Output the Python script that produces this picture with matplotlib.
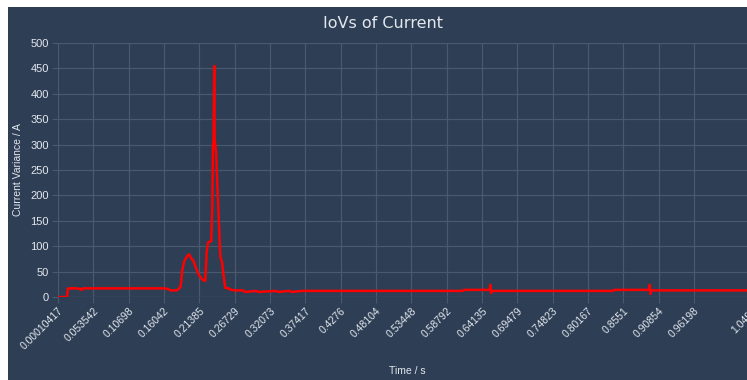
import matplotlib
matplotlib.use("Agg")
import matplotlib.pyplot as plt
from matplotlib.patches import Rectangle

# Current variance over time (s, A)
time_s = [0.0001, 0.0137, 0.0152, 0.030, 0.036, 0.037, 0.080, 0.120, 0.160, 0.166,
          0.170, 0.180, 0.1855, 0.1880, 0.1910, 0.1950, 0.1985, 0.2015, 0.2046,
          0.2085, 0.2122, 0.2160, 0.2197, 0.2228, 0.2250, 0.2273, 0.2318, 0.2334,
          0.2345, 0.2352, 0.2364, 0.2370, 0.2379, 0.2394, 0.2409, 0.2432, 0.2455,
          0.2485, 0.2500, 0.2531, 0.2576, 0.2622, 0.2682, 0.2800, 0.2830, 0.3000,
          0.3030, 0.3300, 0.3330, 0.3500, 0.3530, 0.3700, 0.3742, 0.5000, 0.6121,
          0.6140, 0.6530, 0.6540, 0.6550, 0.6560, 0.7500, 0.8393, 0.8410, 0.8940,
          0.8950, 0.8960, 0.8970, 0.9600, 1.0496]
variance_a = [0, 0, 17, 17, 14, 17, 17, 17, 17, 16,
              13, 13, 20, 52, 70, 80, 84, 76, 72,
              58, 46, 38, 33, 32, 90, 108, 110, 175,
              300, 305, 455, 310, 300, 283, 225, 155, 80,
              66, 47, 18, 17, 14, 13, 13, 10, 12,
              10, 12, 10, 12, 10, 12, 12, 12, 12,
              14, 14, 24, 8, 12, 12, 12, 14, 14,
              24, 6, 13, 13, 13]

x_ticks = [0.00010417, 0.053542, 0.10698, 0.16042, 0.21385, 0.26729, 0.32073,
           0.37417, 0.4276, 0.48104, 0.53448, 0.58792, 0.64135, 0.69479,
           0.74823, 0.80167, 0.8551, 0.90854, 0.96198, 1.0496]
x_tick_labels = ["0.00010417", "0.053542", "0.10698", "0.16042", "0.21385",
                 "0.26729", "0.32073", "0.37417", "0.4276", "0.48104",
                 "0.53448", "0.58792", "0.64135", "0.69479", "0.74823",
                 "0.80167", "0.8551", "0.90854", "0.96198", "1.0496"]
y_ticks = [0, 50, 100, 150, 200, 250, 300, 350, 400, 450, 500]

W, H = 747, 380
BG = "#2d3e55"
GRID = "#4a5a6c"
TXT = "#e4e8ee"

plt.rcParams["font.family"] = ["Liberation Sans", "DejaVu Sans"]

fig = plt.figure(figsize=(W / 100, H / 100), dpi=100)
fig.patch.set_facecolor("white")
fig.add_artist(Rectangle((8 / W, 0), 1, 1 - 7 / H, transform=fig.transFigure,
                         facecolor=BG, edgecolor="none", zorder=0))

left, right, top, bottom = 58, 752, 43, 297
ax = fig.add_axes([left / W, (H - bottom) / H, (right - left) / W, (bottom - top) / H])
ax.set_facecolor(BG)
ax.plot(time_s, variance_a, color="#ff0000", lw=1.8, solid_joinstyle="round", zorder=3)

ax.set_xlim(x_ticks[0], x_ticks[-1])
ax.set_ylim(0, 500)
ax.set_xticks(x_ticks)
ax.set_xticklabels(x_tick_labels, rotation=45, ha="right", va="top",
                   rotation_mode="anchor", fontsize=7.5, color=TXT)
ax.set_yticks(y_ticks)
ax.set_yticklabels([str(v) for v in y_ticks], fontsize=8, color=TXT)
ax.tick_params(axis="both", length=4.5, width=0.8, color=GRID, pad=2)
ax.grid(True, color=GRID, lw=0.9, zorder=1)
for s in ax.spines.values():
    s.set_visible(False)
ax.axhline(0, color="#3f4a56", lw=1.0, zorder=2)

fig.text(383 / W, 1 - 24 / H, "IoVs of Current", ha="center", va="center",
         fontsize=11.5, color=TXT, family="DejaVu Sans")
fig.text(18 / W, 1 - 170 / H, "Current Variance / A", rotation=90, ha="center",
         va="center", fontsize=7.5, color=TXT)
fig.text(407 / W, 1 - 371 / H, "Time / s", ha="center", va="center",
         fontsize=7.5, color=TXT)

fig.savefig("out.png", dpi=100, facecolor=fig.get_facecolor())
